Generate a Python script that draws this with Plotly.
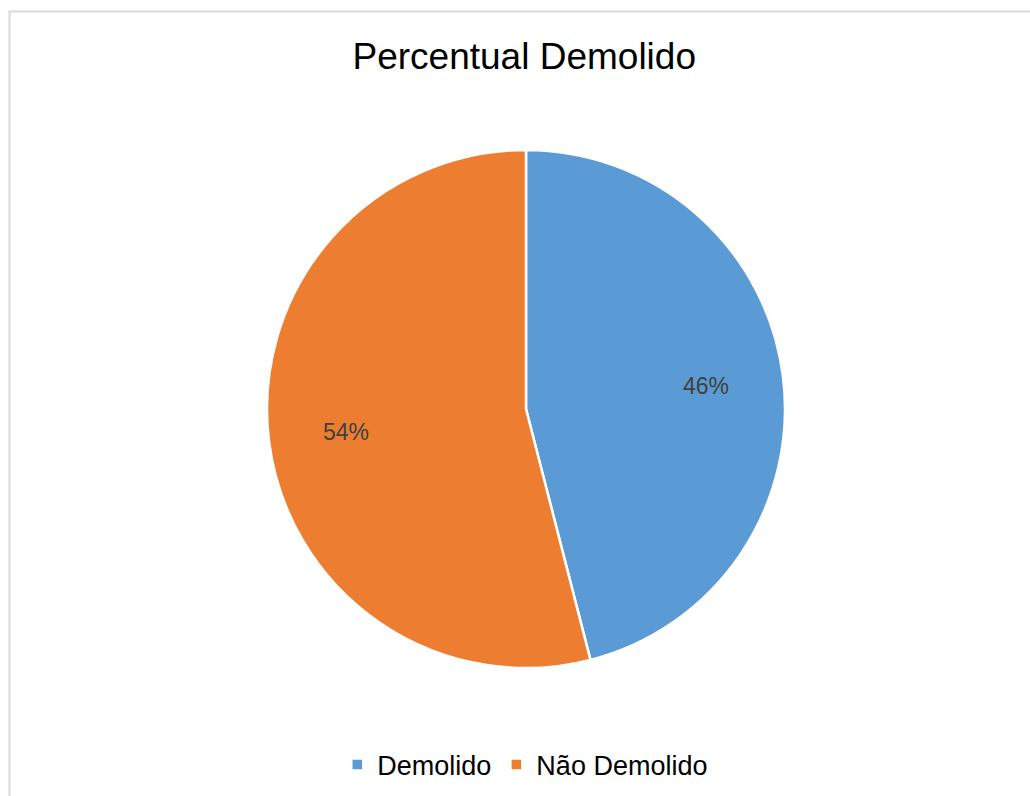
import math
import plotly.graph_objects as go

# Chart data
labels = ["Demolido", "Não Demolido"]
values = [46, 54]
colors = ["#5b9bd5", "#ed7d31"]
title_text = "Percentual Demolido"

W, H = 1030, 796

# Pie geometry (pixels): centre and radius
CX, CY, R = 526, 409, 259
LABEL_RADIUS = 0.70  # fraction of radius where the percentage labels sit

fig = go.Figure(
    go.Pie(
        labels=labels,
        values=values,
        sort=False,
        direction="clockwise",
        rotation=0,
        marker=dict(colors=colors, line=dict(color="white", width=2.5)),
        textinfo="none",
        domain=dict(x=[(CX - R) / W, (CX + R) / W], y=[1 - (CY + R) / H, 1 - (CY - R) / H]),
        hoverinfo="label+percent",
    )
)

# Percentage labels placed at the middle angle of each slice
total = sum(values)
annotations = []
start = 0.0
for v in values:
    frac = v / total
    mid = (start + frac / 2) * 2 * math.pi  # clockwise from 12 o'clock
    px = CX + LABEL_RADIUS * R * math.sin(mid)
    py = CY - LABEL_RADIUS * R * math.cos(mid)
    annotations.append(
        dict(
            x=px / W,
            y=1 - py / H,
            xref="paper",
            yref="paper",
            text=f"{round(frac * 100)}%",
            showarrow=False,
            xanchor="center",
            yanchor="middle",
            font=dict(family="Liberation Sans, Arial", size=23, color="#404040"),
        )
    )
    start += frac

fig.update_layout(
    width=W,
    height=H,
    margin=dict(l=0, r=0, t=0, b=0),
    paper_bgcolor="white",
    plot_bgcolor="white",
    font=dict(family="Liberation Sans, Arial", color="#000000"),
    title=dict(
        text=title_text,
        x=0.509,
        xanchor="center",
        y=1 - 56 / H,
        yanchor="middle",
        font=dict(size=37, color="#000000"),
    ),
    showlegend=True,
    legend=dict(
        orientation="h",
        x=0.51,
        xanchor="center",
        y=1 - 765 / H,
        yanchor="middle",
        font=dict(size=27, color="#000000"),
        itemwidth=30,
        traceorder="normal",
    ),
    annotations=annotations,
    shapes=[
        dict(
            type="rect",
            xref="paper",
            yref="paper",
            x0=9.5 / W,
            x1=1.05,
            y0=-0.05,
            y1=1 - 11.5 / H,
            line=dict(color="#d9d9d9", width=2),
            fillcolor="rgba(0,0,0,0)",
            layer="below",
        )
    ],
)

fig.write_html("out.html")
